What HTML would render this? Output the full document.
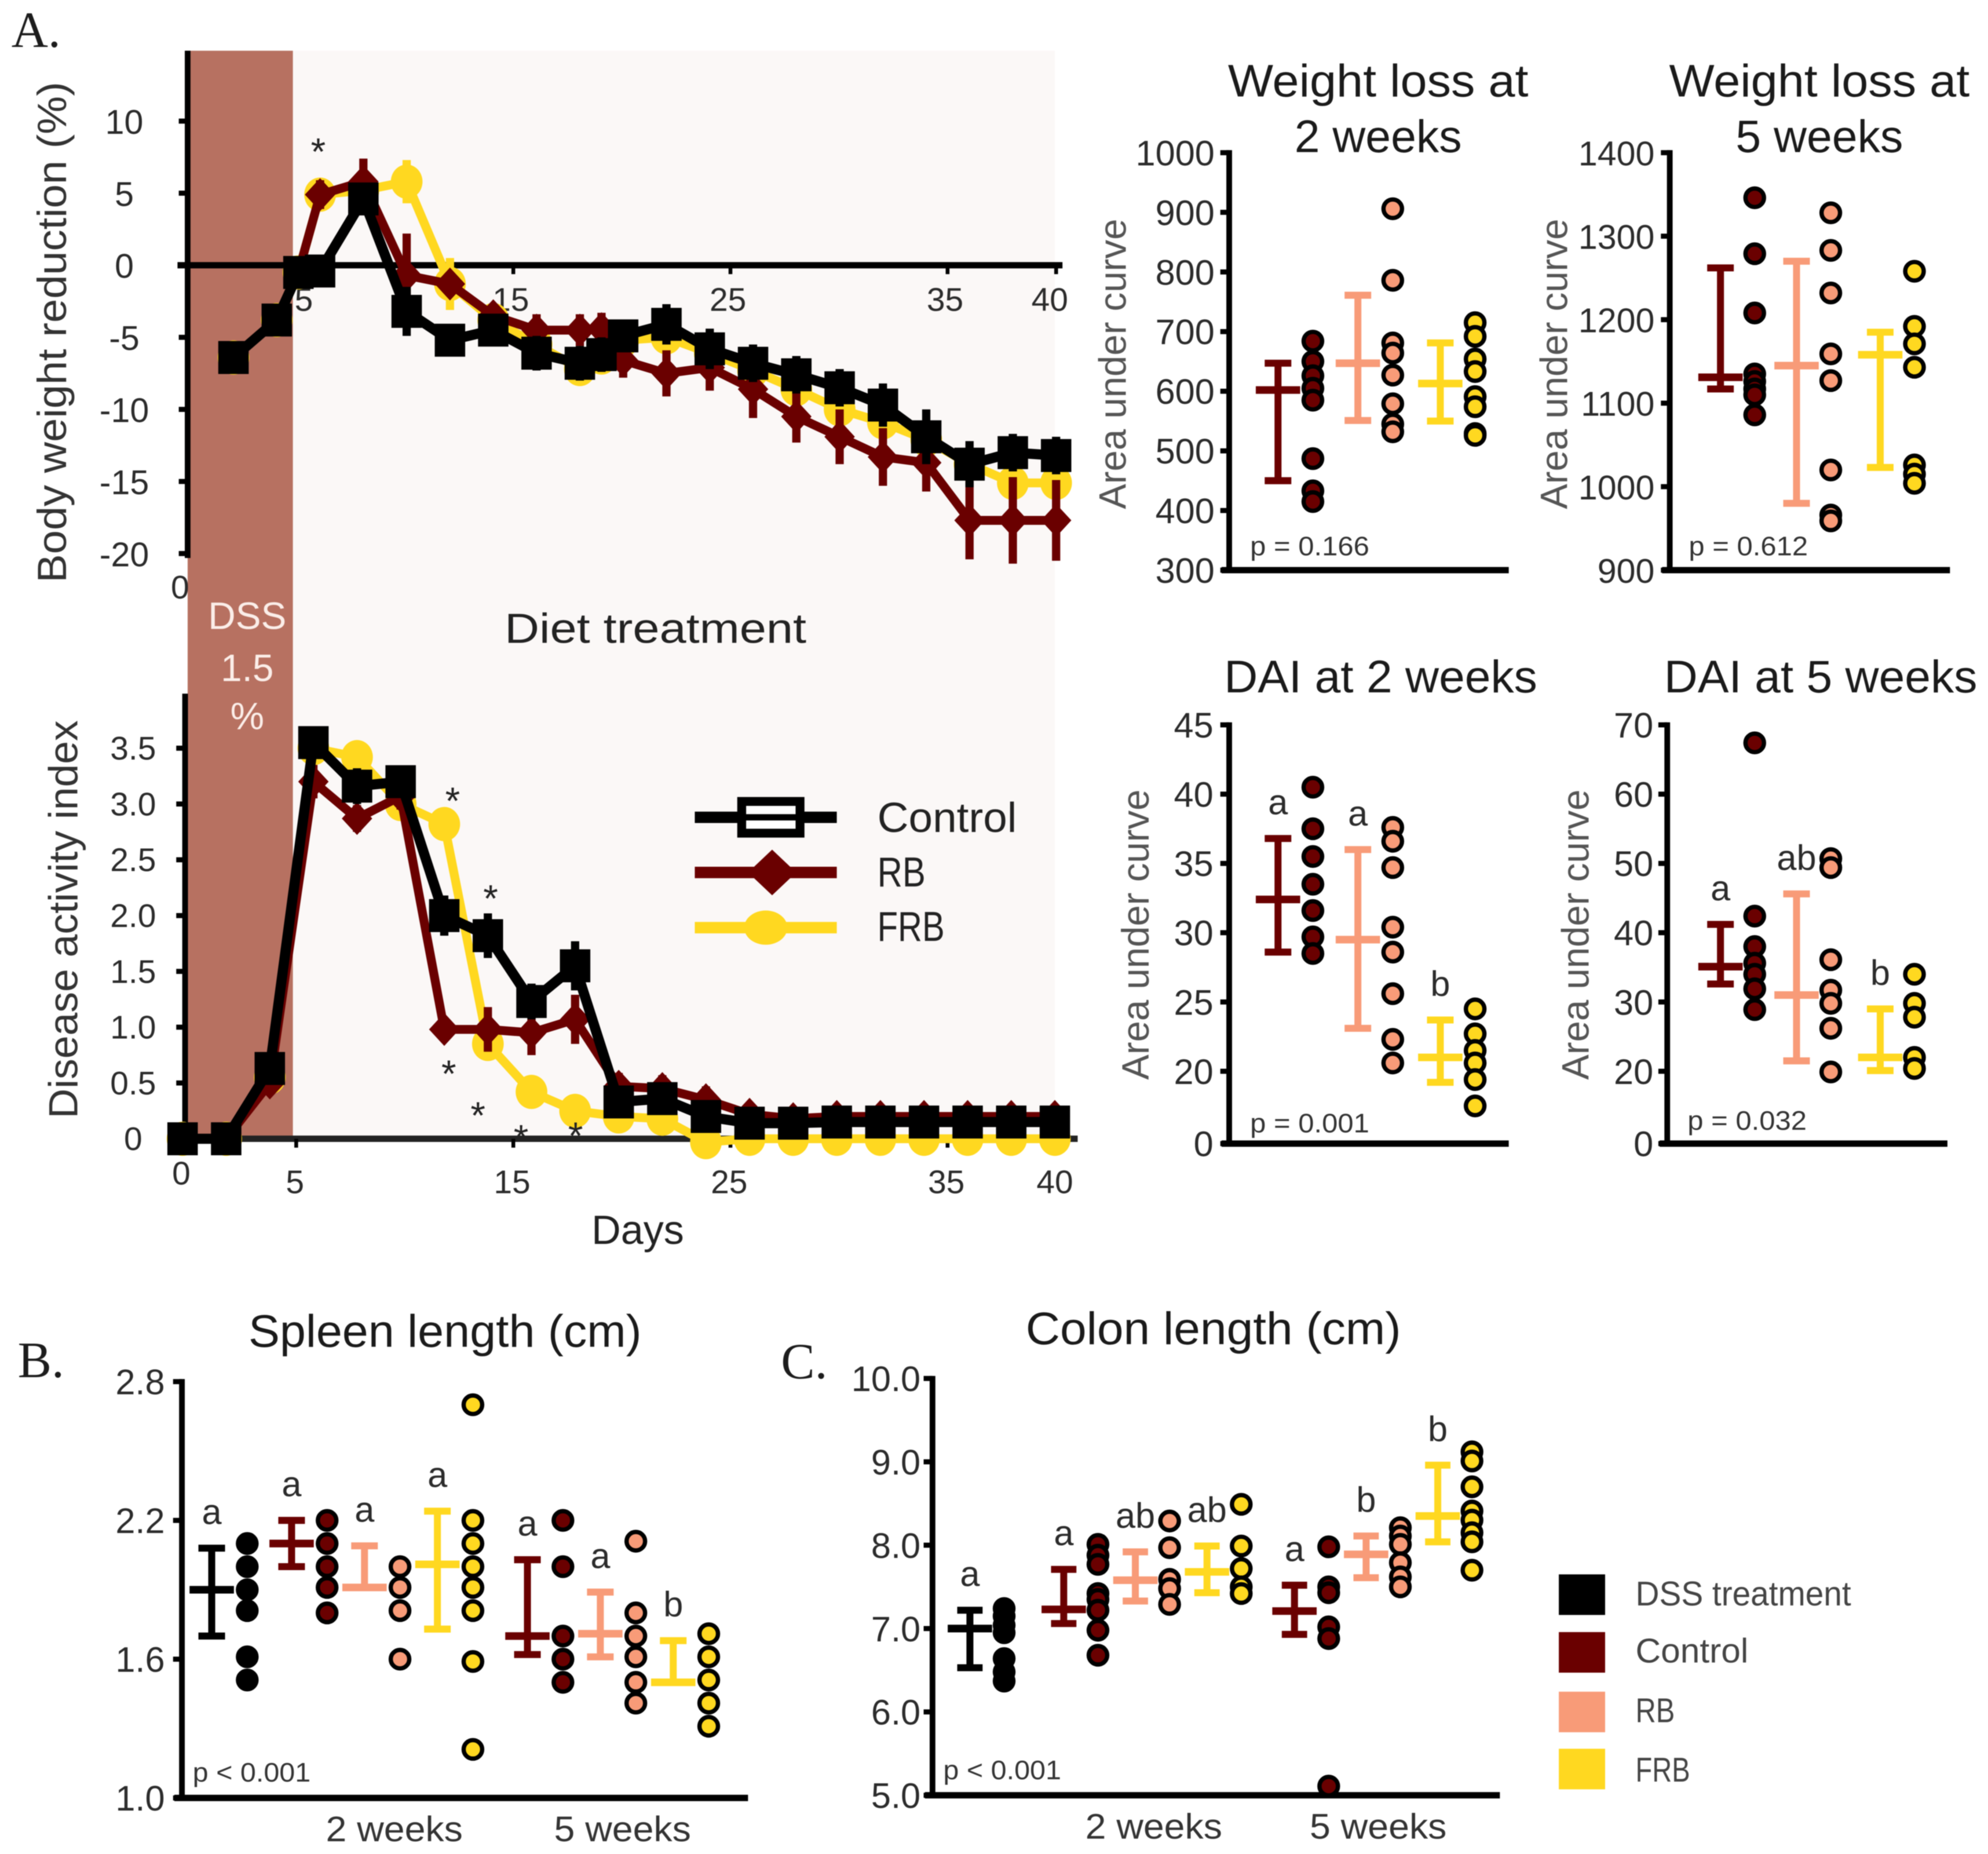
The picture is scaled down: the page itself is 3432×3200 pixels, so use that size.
<!DOCTYPE html>
<html lang="en">
<head>
<meta charset="utf-8">
<title>DSS colitis diet treatment figure</title>
<style>
html,body{margin:0;padding:0;background:#fff;}
svg{display:block;filter:blur(0.9px);}
text{font-family:"Liberation Sans",sans-serif;fill:#2b2b2b;}
.serif{font-family:"Liberation Serif",serif;fill:#1c1c1c;font-size:40px;}
.title{font-size:36px;fill:#1a1a1a;text-anchor:middle;}
.axis-title{font-size:30px;fill:#555;text-anchor:middle;}
.p{font-size:21px;fill:#333;}
.star{font-size:30px;fill:#222;text-anchor:middle;}
.week{font-size:28px;fill:#333;text-anchor:middle;}
.leg{font-size:33px;fill:#222;}
.leg2{font-size:27px;fill:#444;}
</style>
</head>
<body>
<svg id="figure" xmlns="http://www.w3.org/2000/svg" width="3432" height="3200" viewBox="0 0 1568 1462">
  <rect x="0" y="0" width="1568" height="1462" fill="#fff"/>
  <text class="serif" x="9" y="37">A.</text>
  <text class="serif" x="14" y="1086">B.</text>
  <text class="serif" x="616" y="1087">C.</text>

  <rect x="231" y="40" width="601" height="858" fill="#fbf8f7"/>
  <rect x="148" y="40" width="83" height="858" fill="#b77161"/>
  <text x="195" y="496" font-size="30" text-anchor="middle" style="fill:#fbeee9">DSS</text>
  <text x="195" y="537" font-size="30" text-anchor="middle" style="fill:#fbeee9">1.5</text>
  <text x="195" y="575" font-size="30" text-anchor="middle" style="fill:#fbeee9">%</text>
  <text x="517" y="507" font-size="33" text-anchor="middle" textLength="238" lengthAdjust="spacingAndGlyphs" style="fill:#222">Diet treatment</text>

  <g id="weight-line-chart"></g>
  <g id="dai-line-chart"></g>

  <text class="axis-title" transform="translate(52,262) rotate(-90)" font-size="32" textLength="395" lengthAdjust="spacingAndGlyphs" style="font-size:32px;fill:#333">Body weight reduction (%)</text>
  <text class="axis-title" transform="translate(61,725) rotate(-90)" textLength="314" lengthAdjust="spacingAndGlyphs" style="font-size:32px;fill:#333">Disease activity index</text>
  <text x="503" y="981" font-size="32" text-anchor="middle" style="fill:#222">Days</text>

  <text class="star" x="251" y="130">*</text>
  <text class="star" x="357" y="642">*</text>
  <text class="star" x="387" y="719">*</text>
  <text class="star" x="354" y="857">*</text>
  <text class="star" x="377" y="890">*</text>
  <text class="star" x="411" y="908">*</text>
  <text class="star" x="454" y="906">*</text>

  <g>
    <g>
      <line x1="548" x2="660" y1="644.5" y2="644.5" stroke="#000" stroke-width="9"/>
      <rect x="585" y="632" width="46" height="25" fill="#fff" stroke="#000" stroke-width="7"/>
      <line x1="585" x2="631" y1="644.5" y2="644.5" stroke="#000" stroke-width="5"/>
      <text class="leg" x="692" y="656" textLength="110" lengthAdjust="spacingAndGlyphs">Control</text>
    </g>
    <g>
      <line x1="548" x2="660" y1="688" y2="688" stroke="#6a0000" stroke-width="9"/>
      <polygon points="590,688 609,670 628,688 609,706" fill="#6a0000"/>
      <text class="leg" x="692" y="699" textLength="38" lengthAdjust="spacingAndGlyphs">RB</text>
    </g>
    <g>
      <line x1="548" x2="660" y1="731.5" y2="731.5" stroke="#ffd820" stroke-width="9"/>
      <ellipse cx="604" cy="731.5" rx="17" ry="13.5" fill="#ffd820"/>
      <text class="leg" x="692" y="742" textLength="53" lengthAdjust="spacingAndGlyphs">FRB</text>
    </g>
  </g>

  <text class="title" x="1087" y="76" textLength="237" lengthAdjust="spacingAndGlyphs">Weight loss at</text>
  <text class="title" x="1087" y="120" textLength="132" lengthAdjust="spacingAndGlyphs">2 weeks</text>
  <text class="title" x="1435" y="76" textLength="237" lengthAdjust="spacingAndGlyphs">Weight loss at</text>
  <text class="title" x="1435" y="120" textLength="132" lengthAdjust="spacingAndGlyphs">5 weeks</text>
  <text class="title" x="1089" y="546" textLength="247" lengthAdjust="spacingAndGlyphs">DAI at 2 weeks</text>
  <text class="title" x="1436" y="546" textLength="247" lengthAdjust="spacingAndGlyphs">DAI at 5 weeks</text>
  <text class="title" x="351" y="1062" textLength="310" lengthAdjust="spacingAndGlyphs">Spleen length (cm)</text>
  <text class="title" x="957" y="1060" textLength="296" lengthAdjust="spacingAndGlyphs">Colon length (cm)</text>

  <text class="axis-title" transform="translate(888,287) rotate(-90)" textLength="229" lengthAdjust="spacingAndGlyphs">Area under curve</text>
  <text class="axis-title" transform="translate(1236,287) rotate(-90)" textLength="229" lengthAdjust="spacingAndGlyphs">Area under curve</text>
  <text class="axis-title" transform="translate(906,737) rotate(-90)" textLength="229" lengthAdjust="spacingAndGlyphs">Area under curve</text>
  <text class="axis-title" transform="translate(1253,737) rotate(-90)" textLength="229" lengthAdjust="spacingAndGlyphs">Area under curve</text>

  <g id="wl2-chart"></g>
  <g id="wl5-chart"></g>
  <g id="dai2-chart"></g>
  <g id="dai5-chart"></g>
  <g id="spleen-chart"></g>
  <g id="colon-chart"></g>

  <text class="p" x="986" y="438" textLength="94" lengthAdjust="spacingAndGlyphs">p = 0.166</text>
  <text class="p" x="1332" y="438" textLength="94" lengthAdjust="spacingAndGlyphs">p = 0.612</text>
  <text class="p" x="986" y="893" textLength="94" lengthAdjust="spacingAndGlyphs">p = 0.001</text>
  <text class="p" x="1331" y="891" textLength="94" lengthAdjust="spacingAndGlyphs">p = 0.032</text>
  <text class="p" x="152" y="1405" textLength="93" lengthAdjust="spacingAndGlyphs">p &lt; 0.001</text>
  <text class="p" x="744" y="1403" textLength="93" lengthAdjust="spacingAndGlyphs">p &lt; 0.001</text>

  <text class="week" x="311" y="1452" textLength="108" lengthAdjust="spacingAndGlyphs">2 weeks</text>
  <text class="week" x="491" y="1452" textLength="108" lengthAdjust="spacingAndGlyphs">5 weeks</text>
  <text class="week" x="910" y="1450" textLength="108" lengthAdjust="spacingAndGlyphs">2 weeks</text>
  <text class="week" x="1087" y="1450" textLength="108" lengthAdjust="spacingAndGlyphs">5 weeks</text>

  <g>
    <rect x="1229.5" y="1241.5" width="36.5" height="32" fill="#000"/>
    <text class="leg2" x="1290" y="1266" textLength="170" lengthAdjust="spacingAndGlyphs">DSS treatment</text>
    <rect x="1229.5" y="1287" width="36.5" height="32" fill="#6a0000"/>
    <text class="leg2" x="1290" y="1311" textLength="89" lengthAdjust="spacingAndGlyphs">Control</text>
    <rect x="1229.5" y="1334" width="36.5" height="32" fill="#f89b78"/>
    <text class="leg2" x="1290" y="1358" textLength="31" lengthAdjust="spacingAndGlyphs">RB</text>
    <rect x="1229.5" y="1379" width="36.5" height="32" fill="#ffd820"/>
    <text class="leg2" x="1290" y="1405" textLength="43" lengthAdjust="spacingAndGlyphs">FRB</text>
  </g>
</svg>

<script>
// ---------- Body weight line chart data ----------
const weightDays = [2,4,5,6,8,10,12,14,16,18,19,20,22,24,26,28,30,32,34,36,38,40];
const weightControl = [-6.4,-3.8,-0.5,-0.4,4.6,-3.2,-5.2,-4.5,-6.1,-6.8,-6.2,-4.9,-4.1,-5.8,-6.8,-7.6,-8.5,-9.7,-11.9,-13.8,-13,-13.2];
const weightControlErr = [0.6,0.6,0.5,0.5,1,1.7,1,1,1.2,1.2,1.2,1.1,1.4,1.4,1.3,1.3,1.3,1.5,1.9,1.6,1.3,1.3];
const weightRB = [-6.4,-3.8,-0.5,4.9,5.8,-0.7,-1.3,-3.5,-4.5,-4.5,-4.4,-6.6,-7.5,-7.1,-8.6,-10.5,-11.9,-13.3,-13.7,-17.7,-17.7,-17.7];
const weightRBErr = [0.5,0.5,0.5,1,1.6,2.9,0.8,0.8,1.1,1.1,1.1,1.2,1.6,1.6,2,1.8,1.9,2,2,2.7,3,2.8];
const weightFRBDays = [2,4,5,6,8,10,12,14,16,18,19,20,22,24,26,28,30,32,34,36,38,40];
const weightFRB = [-6.4,-3.8,-0.5,4.9,5.2,5.8,-1.3,-3.8,-5.5,-7.2,-6.4,-5.2,-5,-6.1,-7.3,-8.6,-10,-10.9,-12.1,-13.8,-15.1,-15.1];
const weightFRBErr = [0.5,0.5,0.5,0.7,0.7,1.5,1.8,0.8,0.8,0.8,0.8,0.8,0.8,0.8,0.8,0.8,0.8,0.8,0.8,0.8,0.8,0.8];
const weightTicks = ['10','5','0','-5','-10','-15','-20'];
// ---------- Disease activity line chart data ----------
const daiDays = [0,2,4,6,8,10,12,14,16,18,20,22,24,26,28,30,32,34,36,38,40];
const daiControl = [0,0,0.63,3.55,3.16,3.2,2.0,1.82,1.23,1.55,0.33,0.36,0.2,0.14,0.14,0.15,0.15,0.15,0.15,0.15,0.15];
const daiControlErr = [0,0.05,0.12,0.12,0.16,0.12,0.18,0.2,0.16,0.22,0.14,0.13,0.12,0.11,0.11,0.11,0.11,0.12,0.11,0.11,0.11];
const daiRB = [0,0,0.5,3.2,2.87,3.07,0.98,0.98,0.95,1.07,0.47,0.45,0.35,0.22,0.18,0.2,0.2,0.2,0.2,0.2,0.2];
const daiRBErr = [0,0,0.1,0.15,0.12,0.12,0.08,0.2,0.2,0.22,0.12,0.12,0.12,0.1,0.1,0.1,0.1,0.1,0.1,0.1,0.1];
const daiFRB = [0,0,0.55,3.5,3.42,3.0,2.82,0.85,0.42,0.25,0.2,0.18,-0.03,0,0,0,0,0,0,0,0];
const daiFRBErr = [0,0,0.08,0.1,0.1,0.08,0.08,0.1,0.08,0.08,0.05,0.05,0.03,0.02,0.02,0.02,0.02,0.02,0.02,0.02,0.02];
const daiTicks = ['0','0.5','1.0','1.5','2.0','2.5','3.0','3.5'];
const dayTicks = [5,15,25,35,40];

// ---------- Weight loss at 2 weeks ----------
const wl2Ticks = ['300','400','500','600','700','800','900','1000'];
const wl2Means = [602,647,613];
const wl2Highs = [647,761,681];
const wl2Lows = [450,551,550];
const wl2ControlDots = [684,650,626,605,585,487,433,415];
const wl2RBDots = [906,786,681,664,627,579,545,532];
const wl2FRBDots = [715,692,654,633,591,574,529,526];
// ---------- Weight loss at 5 weeks ----------
const wl5Ticks = ['900','1000','1100','1200','1300','1400'];
const wl5Means = [1131,1145,1158];
const wl5Highs = [1262,1270,1185];
const wl5Lows = [1117,980,1023];
const wl5ControlDots = [1346,1279,1208,1135,1126,1117,1110,1086];
const wl5RBDots = [1328,1283,1232,1159,1127,1020,966,959];
const wl5FRBDots = [1258,1192,1171,1143,1026,1015,1004];
// ---------- DAI at 2 weeks ----------
const dai2TickValues = [14.78,20,25,30,35,40,45];
const dai2TickLabels = ['0','20','25','30','35','40','45'];
const dai2Means = [32.4,29.5,21];
const dai2Highs = [36.8,36,23.7];
const dai2Lows = [28.6,23.1,19.2];
const dai2Letters = ['a','a','b'];
const dai2ControlDots = [40.5,37.5,35.5,33.5,31.6,29.7,28.5];
const dai2RBDots = [37.6,36.6,34.7,30.4,28.6,25.6,22.3,20.6];
const dai2FRBDots = [24.5,22.7,21.5,20.6,19.4,17.5];
// ---------- DAI at 5 weeks ----------
const dai5TickValues = [9.56,20,30,40,50,60,70];
const dai5TickLabels = ['0','20','30','40','50','60','70'];
const dai5Means = [35.1,31,22];
const dai5Highs = [41.2,45.6,29];
const dai5Lows = [32.6,21.5,20.1];
const dai5Letters = ['a','ab','b'];
const dai5ControlDots = [67.4,42.4,38,35.6,34,31.9,28.9];
const dai5RBDots = [50.7,49.4,36.1,31.7,29.8,26.2,19.9];
const dai5FRBDots = [34,29.8,27.8,22,20.4];
// ---------- Spleen length ----------
const spleenTicks = ['1.0','1.6','2.2','2.8'];
const spleenMeans = [1.9,2.1,1.91,2.01,1.7,1.71,1.5];
const spleenHighs = [2.08,2.2,2.09,2.24,2.03,1.89,1.68];
const spleenLows = [1.7,2.0,1.91,1.73,1.62,1.61,1.5];
const spleenLetters = ['a','a','a','a','a','a','b'];
const spleenDssDots = [2.1,2.0,1.9,1.81,1.61,1.51];
const spleenControl2Dots = [2.2,2.1,2.0,1.91,1.8];
const spleenRB2Dots = [2.0,1.91,1.81,1.6];
const spleenFRB2Dots = [2.7,2.2,2.1,2.0,1.91,1.81,1.59,1.21];
const spleenControl5Dots = [2.2,2.0,1.7,1.6,1.5];
const spleenRB5Dots = [2.11,1.8,1.7,1.61,1.5,1.41];
const spleenFRB5Dots = [1.71,1.61,1.51,1.41,1.31];
// ---------- Colon length ----------
const colonTicks = ['5.0','6.0','7.0','8.0','9.0','10.0'];
const colonMeans = [7.0,7.23,7.58,7.68,7.21,7.89,8.35];
const colonHighs = [7.22,7.71,7.92,7.99,7.52,8.11,8.96];
const colonLows = [6.53,7.06,7.33,7.43,6.93,7.61,8.04];
const colonLetters = ['a','a','ab','ab','a','b','b'];
const colonDssDots = [7.24,7.15,7.04,6.95,6.64,6.48,6.37];
const colonControl2Dots = [8.01,7.88,7.77,7.42,7.35,7.22,6.98,6.68];
const colonRB2Dots = [8.29,7.97,7.59,7.48,7.29];
const colonFRB2Dots = [8.49,7.99,7.72,7.5,7.42];
const colonControl5Dots = [7.98,7.5,7.43,7.02,6.88,5.11];
const colonRB5Dots = [8.21,8.11,8.01,7.79,7.62,7.5];
const colonFRB5Dots = [9.12,9.01,8.7,8.41,8.3,8.15,8.04,7.7];

const NS = 'http://www.w3.org/2000/svg';
const BLACK = '#000000', DARK = '#6a0000', SALMON = '#f89b78', YELLOW = '#ffd820';

function make(parent, tag, attrs) {
  const node = document.createElementNS(NS, tag);
  for (const k in attrs) node.setAttribute(k, attrs[k]);
  parent.appendChild(node);
  return node;
}
function linear(d0, d1, r0, r1) {
  return function (v) { return r0 + (v - d0) * (r1 - r0) / (d1 - d0); };
}
function hline(parent, x1, x2, y, color, width) {
  const seg = make(parent, 'line', {x1: x1, x2: x2, y1: y, y2: y, stroke: color, 'stroke-width': width});
  
  
  return seg;
}
function vline(parent, x, y1, y2, color, width) {
  const seg = make(parent, 'line', {x1: x, x2: x, y1: y1, y2: y2, stroke: color, 'stroke-width': width});
  
  
  return seg;
}
function tickLabel(parent, str, x, y, size, anchor) {
  const t = make(parent, 'text', {x: x, y: y, 'font-size': size, 'text-anchor': anchor});
  
  
  t.textContent = str;
  return t;
}

// ---------- Dot / error bar panels ----------
function drawDotPanel(g, o) {
  const y = linear(o.domain[0], o.domain[1], o.yBottom, o.yTop);
  vline(g, o.axisX, o.yTop - 2, o.yBottom + 2, BLACK, 4.5);
  hline(g, o.axisX - 6, o.axisEnd, o.yBottom, BLACK, 5);
  o.tickValues.forEach(function (v, i) {
    hline(g, o.axisX - 7, o.axisX, y(v), BLACK, 4);
    tickLabel(g, o.tickLabels[i], o.labelX, y(v) + 10, o.fontSize, 'end');
  });
  const xOf = function (i) {
    return o.origin + i * o.step + (i >= 1 ? o.gap1 : 0) + (i >= 4 ? o.gap2 : 0);
  };
  o.means.forEach(function (m, i) {
    const x = xOf(i), c = o.colors[i];
    vline(g, x, y(o.highs[i]), y(o.lows[i]), c, 5.5);
    hline(g, x - o.capHalf, x + o.capHalf, y(o.highs[i]), c, 5.5);
    hline(g, x - o.capHalf, x + o.capHalf, y(o.lows[i]), c, 5.5);
    hline(g, x - o.meanHalf, x + o.meanHalf, y(m), c, 6);
    if (o.letters) {
      const letter = make(g, 'text', {x: x, y: y(o.highs[i]) - 19, 'font-size': 28, 'text-anchor': 'middle'});
      
      
      letter.textContent = o.letters[i];
    }
    o.dots[i].forEach(function (v) {
      const dot = make(g, 'circle', {cx: x + o.dotOffset, cy: y(v), r: 7.3, fill: c, stroke: BLACK, 'stroke-width': 3.4});
      
      
    });
  });
}

const threeColors = [DARK, SALMON, YELLOW];
const sevenColors = [BLACK, DARK, SALMON, YELLOW, DARK, SALMON, YELLOW];

drawDotPanel(document.getElementById('wl2-chart'), {
  domain: [300, 1000], yBottom: 449.6, yTop: 120.4, axisX: 969.5, axisEnd: 1190, labelX: 958, fontSize: 28,
  tickValues: wl2Ticks.map(Number), tickLabels: wl2Ticks,
  origin: 1008, step: 65, gap1: -2, gap2: 0, capHalf: 10.5, meanHalf: 17.5, dotOffset: 27.5,
  means: wl2Means, highs: wl2Highs, lows: wl2Lows, colors: threeColors,
  dots: [wl2ControlDots, wl2RBDots, wl2FRBDots]
});
drawDotPanel(document.getElementById('wl5-chart'), {
  domain: [900, 1400], yBottom: 449.6, yTop: 120.4, axisX: 1317, axisEnd: 1538, labelX: 1305, fontSize: 27,
  tickValues: wl5Ticks.map(Number), tickLabels: wl5Ticks,
  origin: 1357, step: 66, gap1: -6, gap2: 0, capHalf: 10.5, meanHalf: 17.5, dotOffset: 27,
  means: wl5Means, highs: wl5Highs, lows: wl5Lows, colors: threeColors,
  dots: [wl5ControlDots, wl5RBDots, wl5FRBDots]
});
drawDotPanel(document.getElementById('dai2-chart'), {
  domain: [14.78, 45], yBottom: 901.8, yTop: 571.6, axisX: 969.5, axisEnd: 1190, labelX: 957, fontSize: 28,
  tickValues: dai2TickValues, tickLabels: dai2TickLabels,
  origin: 1008, step: 65, gap1: -2, gap2: 0, capHalf: 10.5, meanHalf: 17.5, dotOffset: 27.5,
  means: dai2Means, highs: dai2Highs, lows: dai2Lows, colors: threeColors, letters: dai2Letters,
  dots: [dai2ControlDots, dai2RBDots, dai2FRBDots]
});
drawDotPanel(document.getElementById('dai5-chart'), {
  domain: [9.56, 70], yBottom: 901.8, yTop: 571.6, axisX: 1315, axisEnd: 1536, labelX: 1304, fontSize: 28,
  tickValues: dai5TickValues, tickLabels: dai5TickLabels,
  origin: 1357, step: 66, gap1: -6, gap2: 0, capHalf: 10.5, meanHalf: 17.5, dotOffset: 27,
  means: dai5Means, highs: dai5Highs, lows: dai5Lows, colors: threeColors, letters: dai5Letters,
  dots: [dai5ControlDots, dai5RBDots, dai5FRBDots]
});
drawDotPanel(document.getElementById('spleen-chart'), {
  domain: [1, 2.8], yBottom: 1417.8, yTop: 1089.5, axisX: 143.5, axisEnd: 590, labelX: 130, fontSize: 28,
  tickValues: spleenTicks.map(Number), tickLabels: spleenTicks,
  origin: 167, step: 57.5, gap1: 5.5, gap2: 13.5, capHalf: 10.5, meanHalf: 17.5, dotOffset: 28,
  means: spleenMeans, highs: spleenHighs, lows: spleenLows, colors: sevenColors, letters: spleenLetters,
  dots: [spleenDssDots, spleenControl2Dots, spleenRB2Dots, spleenFRB2Dots, spleenControl5Dots, spleenRB5Dots, spleenFRB5Dots]
});
drawDotPanel(document.getElementById('colon-chart'), {
  domain: [5, 10], yBottom: 1415.7, yTop: 1087, axisX: 735.5, axisEnd: 1183, labelX: 726, fontSize: 28,
  tickValues: colonTicks.map(Number), tickLabels: colonTicks,
  origin: 765, step: 56.5, gap1: 17.5, gap2: 12.5, capHalf: 10, meanHalf: 17.5, dotOffset: 27,
  means: colonMeans, highs: colonHighs, lows: colonLows, colors: sevenColors, letters: colonLetters,
  dots: [colonDssDots, colonControl2Dots, colonRB2Dots, colonFRB2Dots, colonControl5Dots, colonRB5Dots, colonFRB5Dots]
});

// ---------- Line charts ----------
const xDay = linear(0, 40, 148, 833);
const xWeightPoint = linear(0, 40, 150, 833);
const xDaiPoint = linear(0, 40, 144, 832);

function drawSeries(g, xFn, days, vals, errs, y, color, width, marker) {
  const pts = days.map(function (d, i) { return xFn(d) + ',' + y(vals[i]); }).join(' ');
  days.forEach(function (d, i) {
    vline(g, xFn(d), y(vals[i] + errs[i]), y(vals[i] - errs[i]), color, 6.5);
  });
  const path = make(g, 'polyline', {points: pts, fill: 'none', stroke: color, 'stroke-width': width, 'stroke-linejoin': 'round'});
  
  
  days.forEach(function (d, i) {
    const cx = xFn(d), cy = y(vals[i]);
    let m;
    if (marker === 'square') {
      m = make(g, 'rect', {x: cx - 12, y: cy - 13, width: 24, height: 26, fill: color});
    } else if (marker === 'diamond') {
      m = make(g, 'polygon', {points: [cx - 12, cy, cx, cy - 13, cx + 12, cy, cx, cy + 13].join(','), fill: color});
    } else {
      m = make(g, 'ellipse', {cx: cx, cy: cy, rx: 12.5, ry: 13.5, fill: color});
    }
    
    
  });
}

(function () {
  const g = document.getElementById('weight-line-chart');
  const y = linear(10, -20, 95.5, 436.5);
  vline(g, 148, 40, 440, BLACK, 4.5);
  hline(g, 140, 838, y(0), BLACK, 5);
  weightTicks.forEach(function (t) {
    const v = Number(t);
    hline(g, 141, 148, y(v), BLACK, 4);
    tickLabel(g, t, 98, y(v) + 10, 27, 'middle');
  });
  dayTicks.forEach(function (d) {
    vline(g, xDay(d), y(0), y(0) + 7, BLACK, 3);
    tickLabel(g, String(d), xDay(d) + (d === 5 ? 6 : d === 40 ? -5 : -2), 245, 26, 'middle');
  });
  tickLabel(g, '0', 142, 472, 26, 'middle');
  drawSeries(g, xWeightPoint, weightFRBDays, weightFRB, weightFRBErr, y, YELLOW, 7, 'circle');
  drawSeries(g, xWeightPoint, weightDays, weightRB, weightRBErr, y, DARK, 7, 'diamond');
  drawSeries(g, xWeightPoint, weightDays, weightControl, weightControlErr, y, BLACK, 8, 'square');
})();

(function () {
  const g = document.getElementById('dai-line-chart');
  const y = linear(0, 3.5, 898, 590);
  vline(g, 146, 547, 898, BLACK, 4.5);
  hline(g, 146, 850, y(0), '#222', 5);
  daiTicks.forEach(function (t) {
    const v = Number(t);
    hline(g, 139, 146, y(v), BLACK, 4);
    tickLabel(g, t, 105, y(v) + 9, 26, 'middle');
  });
  dayTicks.forEach(function (d) {
    vline(g, xDay(d), y(0), y(0) + 7, BLACK, 3);
    tickLabel(g, String(d), xDay(d) - 1, 941, 26, 'middle');
  });
  tickLabel(g, '0', 143, 934, 26, 'middle');
  drawSeries(g, xDaiPoint, daiDays, daiFRB, daiFRBErr, y, YELLOW, 7, 'circle');
  drawSeries(g, xDaiPoint, daiDays, daiRB, daiRBErr, y, DARK, 7, 'diamond');
  drawSeries(g, xDaiPoint, daiDays, daiControl, daiControlErr, y, BLACK, 8, 'square');
})();
</script>
</body>
</html>
